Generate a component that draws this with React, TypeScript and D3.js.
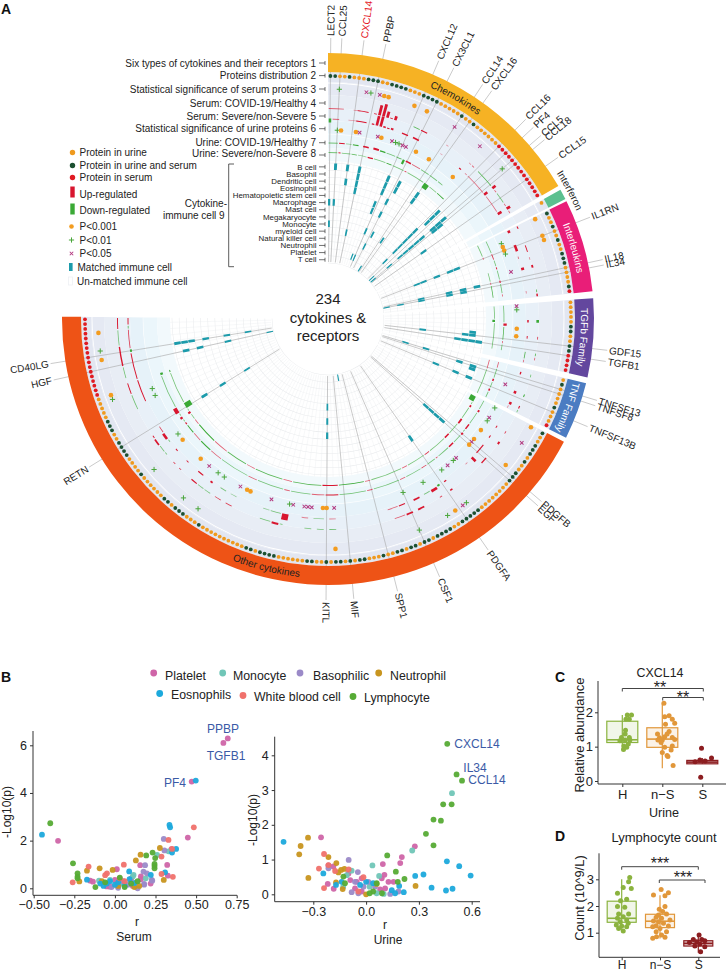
import React from 'react';
import * as d3 from 'd3';

const FONT = '"Liberation Sans", Arial, sans-serif';
const TEXT = '#222';

// ---- panel A data ----
const sectorNames = ['Chemokines', 'Interferon', 'Interleukins', 'TGFb Family', 'TNF Family', 'Other cytokines'];
const sectorSpans = [[0, 60], [60.9, 63.2], [63.7, 84], [85.5, 102.7], [104, 116.5], [117.5, 270.5]];
const sectorColors = ['#f6b224', '#5cc08f', '#e91e78', '#63479e', '#4b7cc2', '#ee5316'];
const sectorTextColors = ['#222', '#222', '#fff', '#fff', '#fff', '#222'];

// one letter per gene: u urine, d urine and serum, s serum, - no dot
const chemokineDots = 'dduuduuudddUUddddUUUddddUUUUUdUUdUUUUUU'.toLowerCase() + 'ssssssssssssss';
const interferonDots = 'u-';
const interleukinDots = 'duuduuduuddduuuuds';
const tgfDots = 'uuuuudduuddssss';
const tnfDots = 'uduuuuduuus';
const otherDots = 'duuddduduuddduuuuuuuuddddduuddddudduddudduuduuuddududuuddu'.slice(0, 53).padEnd(53, 'u')
  + 'du' + 'duudduuuuuuddddudduuuuuuuuuuduuudddudduuuuuuduuuudddduuddduuuuuuddu'.slice(0, 63).padEnd(63, 'u')
  + 'sssssssssssssssss';
const sectorDots = [chemokineDots, interferonDots, interleukinDots, tgfDots, tnfDots, otherDots];

const trackLabels = [
  'Six types of cytokines and their receptors 1', 'Proteins distribution 2', 'Statistical significance of serum proteins 3',
  'Serum: COVID-19/Healthy 4', 'Serum: Severe/non-Severe 5', 'Statistical significance of urine proteins 6',
  'Urine: COVID-19/Healthy 7', 'Urine: Severe/non-Severe 8',
];
const trackLabelY = [63, 75.6, 89, 103, 116, 128.7, 142.7, 153.5];
const immuneCells = ['B cell', 'Basophil', 'Dendritic cell', 'Eosinophil', 'Hematopoietic stem cell', 'Macrophage', 'Mast cell',
  'Megakaryocyte', 'Monocyte', 'myeloid cell', 'Natural killer cell', 'Neutrophil', 'Platelet', 'T cell'];

const geneLabels: [number, string][] = [
  [0, 'LECT2'], [2, 'CCL25'], [6, 'CXCL14'], [10, 'PPBP'], [20, 'CXCL12'], [23, 'CX3CL1'], [29, 'CCL14'], [31, 'CXCL16'],
  [39, 'CCL16'], [41, 'PF4'], [43, 'CCL5'], [44, 'CCL18'], [48, 'CCL15'], [59, 'IL1RN'], [67, 'IL18'], [68, 'IL34'],
  [82, 'GDF15'], [84, 'TGFB1'], [90, 'TNFSF13'], [91, 'TNFSF8'], [95, 'TNFSF13B'], [110, 'PDGFB'], [111, 'EGF'],
  [123, 'PDGFA'], [133, 'CSF1'], [141, 'SPP1'], [149, 'MIF'], [154, 'KITL'], [205, 'RETN'], [222, 'HGF'], [225, 'CD40LG'],
];

// [gene, kind]: o P<0.001, + P<0.01, x P<0.05
const serumSignificance: [number, string][] = [
  [2, '+'], [8, 'x'], [9, '+'], [11, 'x'], [12, 'o'], [13, 'o'], [19, 'o'], [22, 'o'], [29, 'x'], [36, 'x'], [43, '+'],
  [55, 'o'], [59, 'o'], [60, 'o'], [99, 'o'], [103, 'x'], [109, 'o'], [121, '+'], [122, 'x'], [124, 'o'], [126, '+'], [133, '+'],
  [152, 'o'], [184, '+'], [188, '+'], [197, '+'], [215, '+'], [216, 'o'], [224, 'o'], [226, '+'], [230, 'o'],
];
const urineSignificance: [number, string][] = [
  [2, '+'], [3, 'o'], [7, 'o'], [8, 'x'], [13, 'x'], [14, 'o'], [17, 'x'], [18, '+'], [19, '+'], [20, 'x'], [21, 'x'], [24, 'o'], [28, 'o'], [36, 'o'],
  [57, '+'], [58, 'o'], [59, 'o'], [60, '+'], [65, 'x'], [73, 'x'], [74, '+'], [79, 'o'], [81, 'o'], [93, 'x'], [99, '+'], [102, 'x'], [103, '+'],
  [106, 'o'], [109, 'o'], [110, 'x'], [111, 'o'], [116, 'x'], [117, '+'], [119, 'x'], [121, '+'], [127, '+'], [133, '+'],
  [152, 'x'], [154, 'o'], [155, 'o'], [158, 'x'], [159, 'x'], [160, 'x'], [163, 'x'], [164, '+'], [169, 'x'], [175, 'o'], [176, 'o'], [178, 'x'],
  [183, '+'], [185, '+'], [188, 'x'], [191, 'o'], [198, 'o'], [200, '+'], [212, '+'], [214, '+'],
];

// [first gene, last gene, log fold change]
const serumCovid: [number, number, number][] = [
  [0, 3, .3], [6, 7, .15], [7, 9, .5], [11, 11, .5], [12, 12, 3.4], [13, 13, 4], [14, 14, 2.2], [15, 15, .5], [16, 16, 1.6], [21, 22, -.4], [23, 24, .6],
  [30, 30, .12], [37, 37, .15], [38, 38, .3], [40, 44, -.4], [45, 45, 1.6], [46, 46, .3], [47, 49, -.3], [50, 50, .3], [51, 51, 1.6], [52, 52, .3],
  [55, 55, .6], [60, 61, .5], [63, 63, .2], [65, 65, 1], [71, 71, -.4], [72, 72, .8], [77, 77, -1.2], [81, 81, .4], [85, 85, -.4], [86, 86, .3],
  [89, 89, -.3], [94, 94, -.5], [97, 97, .6], [98, 98, -.3], [103, 103, .4], [106, 106, 1], [111, 112, .7], [122, 122, .8], [125, 125, .4], [130, 131, .9],
  [133, 134, .9], [135, 137, .3], [152, 153, -.3], [155, 156, -.3], [158, 159, -.3], [165, 165, -.3], [166, 167, 1], [168, 170, -.3], [178, 179, .4], [181, 182, .4],
  [184, 185, -.3], [186, 187, -.3], [188, 189, .6], [193, 193, .4], [195, 195, .4], [198, 198, -.3], [199, 200, -.3], [201, 202, .9], [203, 203, .5],
  [211, 214, -.3], [215, 217, .5], [219, 221, -.3], [222, 226, .7], [227, 230, -.3], [231, 233, .5],
];
const serumSevere: [number, number, number][] = [
  [0, 0, -1.6], [1, 2, .4], [5, 7, .12], [7, 9, .5], [11, 11, .6], [12, 12, 3.2], [13, 13, 3.4], [14, 14, .8], [15, 15, .5], [16, 16, 1], [19, 20, .7], [22, 23, .9],
  [30, 30, .12], [36, 36, .6], [38, 38, .2], [39, 44, .25], [45, 45, 1.6], [46, 50, .3], [51, 51, 1.7],
  [55, 55, 1.2], [59, 60, 1.2], [62, 62, .3], [65, 65, 1.3], [71, 71, .2], [77, 77, .8], [81, 81, .5], [85, 86, -.4], [87, 87, .3],
  [89, 89, .7], [94, 94, 1.2], [97, 97, 1.2], [98, 98, .2], [103, 103, .5], [106, 106, .6], [109, 111, .6], [113, 113, 2], [115, 115, .2], [122, 122, .7],
  [124, 124, -1], [125, 126, 1.3], [127, 128, -.3], [130, 131, .9], [134, 135, .6], [136, 138, .3], [152, 153, .2], [155, 157, -.2], [159, 160, .2],
  [164, 165, 2.2], [166, 168, -.3], [169, 170, -.2], [178, 179, -.2], [181, 182, -.3], [185, 185, .9], [188, 189, .6], [193, 193, .5], [197, 197, .5],
  [200, 200, -.3], [201, 202, 1.2], [203, 204, .4], [212, 217, .5], [218, 224, .5], [225, 225, -1], [226, 230, .4], [231, 231, -.4], [232, 233, .5],
];
const urineCovid: [number, number, number][] = [
  [0, 2, -.3], [3, 4, .5], [5, 6, -.2], [7, 8, -.6], [10, 11, .8], [13, 14, 1], [15, 16, -.6], [17, 19, -.3], [20, 21, -.4], [22, 22, -1.8], [23, 24, .8], [25, 27, .3], [28, 30, -.3], [31, 33, -.3], [34, 35, -.3],
  [55, 58, -.3], [59, 60, .4], [61, 62, -.3], [63, 63, .5], [64, 66, -.3], [67, 67, .6], [68, 70, -.3], [71, 71, .3],
  [73, 77, -.3], [78, 78, 1.4], [79, 82, -.4], [83, 83, .3], [84, 85, -.3], [88, 89, .3], [90, 92, -.3], [93, 93, .8], [94, 95, -.3], [96, 96, .8], [97, 98, -.3],
  [99, 101, -.3], [102, 102, 1], [103, 106, -.3], [107, 108, .8], [109, 109, -.3], [110, 110, 1], [111, 113, -.3], [114, 115, .8], [116, 119, -.3], [120, 120, .4], [121, 123, -.3], [124, 125, .4],
  [126, 130, -.3], [131, 132, .3], [133, 140, -.3], [141, 142, .3], [143, 150, -.3], [151, 154, .5], [155, 158, .3], [159, 164, -.3], [165, 166, .3], [167, 174, -.3], [175, 177, .3], [178, 186, -.3],
  [187, 190, .3], [191, 194, -.6], [195, 197, .3], [198, 200, -.5], [201, 201, .6], [202, 202, -.3], [203, 203, 1.2], [204, 204, -.3], [205, 206, 1.6], [207, 216, -.3], [217, 217, -1.2],
];
const urineSevere: [number, number, number][] = [
  [0, 2, -.3], [3, 3, .5], [4, 6, -.3], [7, 8, -.4], [9, 11, -.2], [12, 13, .7], [14, 17, -.3], [18, 19, -.5], [20, 23, -.3], [24, 24, .4], [25, 30, -.3], [31, 32, -2], [33, 35, -.3], [36, 38, -.5],
  [55, 58, -.3], [59, 59, .3], [64, 66, -.3], [67, 67, .3], [68, 71, -.4], [73, 76, -.3], [77, 77, -1.2], [78, 85, -.3], [88, 90, .3], [91, 98, -.3],
  [99, 100, -2], [101, 101, -.3], [102, 102, .9], [103, 106, -.3], [107, 108, .9], [109, 112, -.3], [113, 114, .8], [115, 120, -.3], [121, 122, .4], [123, 128, -.3], [129, 130, .3],
  [131, 140, -.3], [141, 142, .3], [143, 150, -.5], [151, 155, .6], [156, 164, -.4], [165, 167, .3], [168, 176, -.4], [177, 179, .3], [180, 186, -.4], [187, 191, .3], [192, 198, -.5],
  [199, 200, .3], [201, 202, -.3], [203, 203, 1.2], [204, 204, -.3], [205, 206, -2.4], [207, 216, -.3], [217, 217, -.5],
];

// [gene, immune cell index]
const matchedCells: [number, number][] = [
  [0, 5], [0, 8], [2, 0], [2, 5], [6, 0], [6, 2], [10, 0], [10, 1], [10, 2], [10, 3], [10, 9], [18, 12],
  [20, 0], [20, 1], [20, 2], [20, 8], [20, 12], [19, 4], [19, 5], [24, 0], [24, 1], [24, 8], [23, 3], [23, 5], [23, 10], [28, 13], [30, 8],
  [31, 0], [31, 1], [39, 4], [39, 5], [39, 6], [39, 7], [39, 8], [39, 10], [40, 0], [40, 1], [40, 2], [43, 0], [43, 1], [43, 2], [44, 1], [44, 2],
  [43, 4], [43, 5], [43, 6], [43, 7], [43, 8], [43, 10], [43, 13], [41, 13], [48, 5],
  [59, 2], [59, 3], [59, 5], [59, 7], [59, 8], [67, 0], [67, 2], [68, 2], [67, 4], [67, 8], [68, 4], [68, 8], [68, 11], [68, 13],
  [82, 1], [82, 2], [82, 8], [81, 1], [84, 0], [84, 1], [84, 2], [84, 3], [90, 7], [90, 10], [91, 0], [92, 0], [91, 2], [95, 0], [95, 2], [95, 5],
  [111, 0], [111, 1], [111, 2], [111, 3], [123, 1], [145, 13], [154, 7], [154, 9], [154, 5],
  [205, 1], [205, 4], [205, 8], [222, 1], [222, 3], [222, 7], [222, 13], [225, 0], [225, 1], [225, 2], [225, 4], [225, 7], [225, 10],
];

// ---- panel B data ----
const bloodCells = ['Platelet', 'Monocyte', 'Basophilic', 'Neutrophil', 'Eosnophils', 'White blood cell', 'Lymphocyte'];
const bloodCellColors = ['#cf65a8', '#70c6b7', '#9b8ac8', '#c8951f', '#1ca9dc', '#f0716c', '#56ab35'];
type Pt = [number, number];
const serumPoints: Pt[][] = [
  [[.695, 6.29], [.668, 6.1], [.473, 4.48], [-.35, 1.99], [.449, 2.13], [.348, 1.64], [.156, .97], [.322, .98], [.012, .8], [-.152, .32], [-.135, .28], [.326, .53], [-.05, .08], [-.03, .07], [0, .35], [.03, .3], [.05, .2], [.1, .4], [.11, .1], [.16, .5], [.16, .38], [.22, .2]],
  [[.26, 1.4], [.33, 1.55], [.115, .56], [.19, .42], [-.098, .32], [-.03, .35], [.01, .12], [.04, .2], [.13, .25], [.11, .5]],
  [[.301, 2.07], [.305, 1.59], [.186, .97], [.176, .7], [.197, .63], [.227, .35], [.18, .18], [-.02, .05], [.02, .02], [.08, .15], [.14, 0], [.18, .15], [.23, .32], [.05, .3]],
  [[.277, 1.69], [.158, 1.41], [.129, 1.17], [-.172, .74], [-.094, .84], [-.014, .77], [-.219, .29], [.301, .35], [-.08, .3], [.02, .1], [.12, .05], [.15, .1]],
  [[.498, 4.52], [-.449, 2.25], [.336, 2.66], [.34, 2.56], [.377, 1.65], [.352, 1.5], [.088, .71], [-.172, .36], [.309, .67], [.221, .56], [-.09, .2], [-.07, .1], [-.05, .2], [-.03, .3], [0, .15], [.02, .25], [.06, .1], [.09, .38], [.12, .22]],
  [[.486, 2.56], [.33, 2.03], [.352, 1.65], [.287, 1.33], [.055, .99], [-.162, .91], [-.049, .63], [-.26, .25], [.287, .6], [.357, .48], [-.06, .55], [.03, .42], [.06, .3]],
  [[-.398, 2.73], [.232, 1.5], [.248, 1.27], [.244, 1.02], [.244, .94], [.244, .84], [.193, 1.38], [-.258, 1.05], [-.23, .63], [-.23, .49], [-.23, .42], [-.12, .05], [-.06, .25], [.03, .45], [.06, .05], [.1, .2], [.14, .3]],
];
const urinePoints: Pt[][] = [
  [[.277, 1.38], [.203, 1.07], [.194, .9], [.095, .87], [.104, .56], [.089, .46], [-.256, 1.64], [-.214, .83], [-.186, .8], [-.218, .3], [-.184, .16], [-.09, .41], [-.053, .36], [-.025, .46], [-.063, .17], [-.025, .08], [.08, .14], [.127, .36], [.156, .36], [.108, .17], [-.1, .6]],
  [[.488, 2.91], [.262, 1.26], [.036, .83], [.074, .53], [-.082, .68], [-.11, .55], [.02, .22], [.06, .03], [.1, .01], [-.13, .22]],
  [[-.099, .99], [-.214, .75], [-.047, .64], [.013, .36], [-.063, .36], [-.082, .06], [-.015, .22], [.051, .22], [.137, .01], [.184, .08], [-.044, .03]],
  [[-.372, 1.39], [-.33, 1.63], [-.38, 1.15], [-.214, 1.07], [-.169, .9], [-.157, .63], [-.142, .7], [-.123, .73], [-.328, .47], [.281, .24], [-.171, .34], [-.133, .15], [0, 0], [.06, .3]],
  [[-.469, 1.51], [-.243, .6], [.279, .53], [.326, .57], [.459, .95], [.529, .81], [.594, .54], [.372, .19], [.454, .11], [.491, .16], [.214, .06], [.188, .24], [-.171, .27], [-.139, .36], [.146, .12], [.165, .03], [.04, .32], [-.034, .27], [0, .36]],
  [[-.239, 1.16], [-.268, .74], [-.214, .84], [-.176, .67], [-.099, .72], [-.015, .49], [-.239, .18], [-.044, .08]],
  [[.461, 4.33], [.514, 3.45], [.545, 3.27], [.438, 2.59], [.486, 2.59], [.383, 2.15], [.425, 2.12], [.34, 1.74], [.383, 1.41], [.12, 1.12], [.169, .65], [.218, .44], [.18, .36], [-.129, .51], [-.12, .32], [.04, .08], [.02, .03], [.09, .03], [.06, .32]],
];

// ---- panels C, D data ----
const groups = ['H', 'n\u2212S', 'S'];
const groupColors = ['#8bb33f', '#e1973a', '#8c1d20'];
// whisker low, q1, median, q3, whisker high
const cxcl14Boxes = [[.92, 1.12, 1.2, 1.74, 1.92], [.37, .98, 1.22, 1.55, 2.25], [.5, .5, .55, .6, .67]];
const lymphocyteBoxes = [[1.05, 1.39, 1.54, 2.18, 3], [.78, 1.19, 1.43, 1.69, 2.4], [.25, .5, .6, .7, .9]];
// [jitter in group steps, value]
const cxcl14Points: Pt[][] = [
  [[.125, 1.92], [.23, 1.92], [.175, 1.8], [.09, 1.8], [.08, 1.48], [.07, 1.37], [.175, 1.27], [-.02, 1.27], [.07, 1.19], [.19, 1.19], [-.06, 1.17], [.15, 1.08], [.04, 1.02], [.11, .98], [.03, .92]],
  [[.04, 2.26], [.06, 1.87], [.17, 1.9], [.25, 1.8], [.08, 1.65], [.31, 1.68], [.17, 1.44], [.12, 1.37], [.06, 1.29], [-.07, 1.26], [-.12, 1.37], [-.11, 1.19], [0, 1.19], [.25, 1.27], [-.03, 1.12], [.31, 1.21], [.25, 1.02], [.06, .98], [.22, .9], [0, .83], [.14, .71], [.27, .45], [.12, .74]],
  [[-.02, .95], [-.06, .61], [.23, .67], [.07, .58], [-.18, .56], [-.04, .11]],
];
const lymphocytePoints: Pt[][] = [
  [[.21, 3.07], [.18, 2.91], [.04, 2.69], [.25, 2.66], [-.11, 2.48], [.13, 2.25], [-.03, 2.2], [-.11, 1.98], [.08, 1.95], [-.08, 1.7], [.18, 1.7], [.04, 1.6], [-.11, 1.54], [.13, 1.48], [-.04, 1.41], [-.14, 1.29], [0, 1.25], [.17, 1.35], [-.08, 1.16], [.04, 1.06], [.13, 1.22]],
  [[.03, 2.62], [.22, 2.5], [-.17, 2.41], [.13, 2.38], [.13, 1.98], [.07, 1.79], [.17, 1.7], [-.04, 1.66], [-.1, 1.58], [.04, 1.54], [-.17, 1.44], [-.04, 1.41], [.09, 1.35], [-.1, 1.26], [.22, 1.25], [0, 1.16], [-.1, 1.04], [.17, 1.04], [.04, .91], [-.09, .85], [.13, .83], [-.19, 1.22], [-.19, .79], [.26, 1.48], [-.02, 1.88]],
  [[.02, .91], [-.13, .75], [.09, .75], [.17, .7], [-.04, .66], [-.23, .63], [.04, .58], [-.09, .5], [.17, .47], [.06, .29]],
];

const rad = (deg: number) => (deg * Math.PI) / 180;

export default function App() {
  const ref = React.useRef<SVGSVGElement>(null);

  React.useEffect(() => {
    if (!ref.current) return;
    const svg = d3.select(ref.current);
    svg.selectAll('*').remove();
    svg.style('font-family', FONT);

    const label = (sel: any, x: number, y: number, t: string, size = 10, anchor = 'start', fill = TEXT, rot = 0) =>
      sel.append('text').attr('transform', `translate(${x},${y}) rotate(${rot})`).attr('dy', '0.35em')
        .attr('font-size', size).attr('text-anchor', anchor).attr('fill', fill).text(t);

    // ---- panel A ----
    label(svg, 1, 9, 'A', 14).attr('font-weight', 700).attr('fill', '#111');
    label(svg, 1, 677, 'B', 14).attr('font-weight', 700).attr('fill', '#111');
    label(svg, 555, 677, 'C', 14).attr('font-weight', 700).attr('fill', '#111');
    label(svg, 555, 836, 'D', 14).attr('font-weight', 700).attr('fill', '#111');

    const cx = 328, cy = 319;
    const g = svg.append('g').attr('transform', `translate(${cx},${cy})`);
    const counts = sectorDots.map(d => d.length);
    const firstGene = d3.cumsum([0, ...counts]);
    const bands = sectorSpans.map(([a, b], i) =>
      d3.scaleBand<number>().domain(d3.range(firstGene[i], firstGene[i + 1])).range([a, b]));
    const bandOf = (gene: number) => bands[d3.bisectRight(firstGene, gene) - 1];
    const geneStart = (gene: number) => bandOf(gene)(gene)!;
    const geneEnd = (gene: number) => geneStart(gene) + bandOf(gene).bandwidth();
    const geneMid = (gene: number) => geneStart(gene) + bandOf(gene).bandwidth() / 2;
    const arc = d3.arc<any>();
    const wedge = (a0: number, a1: number, r0: number, r1: number) =>
      arc({ startAngle: rad(a0), endAngle: rad(a1), innerRadius: r0, outerRadius: r1 }) as string;

    const trackR = { sector0: 247, sector1: 266, dots: 243, serumSig: 230, serumCovid: 210.5, serumSevere: 200, urineSig: 189, urineCovid: 176, urineSevere: 166.5 };
    const holeR = 57;
    const cellR = d3.scaleLinear().domain([0, 14]).range([156, 56]);

    // background rings
    const ringEdges = [247, 237, 224, 211, 198, 185, 171, 158];
    const ringColors = ['#e2e6f1', '#e5e9f3', '#e8edf5', '#e8f0f8', '#e6f2f9', '#ebf6fb', '#f2f9fc'];
    sectorSpans.forEach(([a0, a1]) => {
      ringColors.forEach((c, i) => {
        g.append('path').attr('d', wedge(a0, a1, ringEdges[i + 1], ringEdges[i])).attr('fill', c);
      });
      g.append('path').attr('d', wedge(a0, a1, 235.6, 236.4)).attr('fill', '#fff');
      g.append('path').attr('d', wedge(a0, a1, 184.6, 185.4)).attr('fill', '#fff').attr('opacity', 0.6);
      d3.range(15).forEach(c => {
        g.append('path').attr('d', wedge(a0, a1, cellR(c) - 0.25, cellR(c) + 0.25)).attr('fill', '#e8eaec');
      });
    });
    // radial grid, one spoke per gene
    g.append('g').selectAll('line').data(d3.range(234).filter(i => (i % 2) === 0)).join('line')
      .attr('x1', d => d3.pointRadial(rad(geneMid(d)), holeR)[0]).attr('y1', d => d3.pointRadial(rad(geneMid(d)), holeR)[1])
      .attr('x2', d => d3.pointRadial(rad(geneMid(d)), 158)[0]).attr('y2', d => d3.pointRadial(rad(geneMid(d)), 158)[1])
      .attr('stroke', '#eceef0').attr('stroke-width', 0.4);

    // gene spokes
    g.append('g').selectAll('line').data(geneLabels).join('line')
      .attr('x1', d => d3.pointRadial(rad(geneMid(d[0])), holeR)[0]).attr('y1', d => d3.pointRadial(rad(geneMid(d[0])), holeR)[1])
      .attr('x2', d => d3.pointRadial(rad(geneMid(d[0])), 281)[0]).attr('y2', d => d3.pointRadial(rad(geneMid(d[0])), 281)[1])
      .attr('stroke', '#a6a6a6').attr('stroke-width', 0.6);

    // sector ring
    const defs = svg.append('defs');
    sectorSpans.forEach(([a0, a1], i) => {
      g.append('path').attr('d', wedge(a0, a1, trackR.sector0, trackR.sector1)).attr('fill', sectorColors[i]);
      if (i === 1) return;
      const bottom = i === 5;
      const r = bottom ? 259.5 : 253;
      const p0 = d3.pointRadial(rad(a0), r), p1 = d3.pointRadial(rad(a1), r);
      const d = bottom
        ? `M${p1[0]},${p1[1]}A${r},${r} 0 0 0 ${p0[0]},${p0[1]}`
        : `M${p0[0]},${p0[1]}A${r},${r} 0 0 1 ${p1[0]},${p1[1]}`;
      defs.append('path').attr('id', `sector-${i}`).attr('d', d);
      const text = g.append('text').attr('font-size', 10).attr('fill', sectorTextColors[i]);
      text.append('textPath').attr('href', `#sector-${i}`)
        .attr('startOffset', '50%').attr('text-anchor', 'middle').text(sectorNames[i]);
    });
    const ifnR = 271;
    const ifn0 = d3.pointRadial(rad(52), ifnR), ifn1 = d3.pointRadial(rad(72), ifnR);
    defs.append('path').attr('id', 'ifn-path').attr('d', `M${ifn0[0]},${ifn0[1]}A${ifnR},${ifnR} 0 0 1 ${ifn1[0]},${ifn1[1]}`);
    g.append('text').attr('font-size', 10).attr('fill', TEXT).append('textPath').attr('href', '#ifn-path')
      .attr('startOffset', '50%').attr('text-anchor', 'middle').text(sectorNames[1]);

    // protein distribution dots
    const dotColor: Record<string, string> = { u: '#ef9a1e', d: '#1c5030', s: '#e01a22' };
    const allDots = sectorDots.join('').split('').map((k, gene) => ({ k, gene })).filter(d => d.k !== '-');
    g.append('g').selectAll('circle').data(allDots).join('circle')
      .attr('cx', d => d3.pointRadial(rad(geneMid(d.gene)), trackR.dots)[0])
      .attr('cy', d => d3.pointRadial(rad(geneMid(d.gene)), trackR.dots)[1])
      .attr('r', 1.9).attr('fill', d => dotColor[d.k]);

    // fold change tracks
    const thick = d3.scaleLinear().domain([0, 1, 4]).range([0, 1.9, 12.5]);
    const fade = d3.scaleLinear().domain([.1, .5]).range([.35, 1]).clamp(true);
    const drawTrack = (rows: [number, number, number][], r: number) => {
      g.append('g').selectAll('path').data(rows).join('path')
        .attr('d', ([a, b, v]) => {
          const t = Math.max(0.8, thick(Math.abs(v)));
          const small = t < 1.6;
          const r0 = small ? r - t / 2 : v > 0 ? r - 0.5 : r + 0.5 - t;
          return wedge(geneStart(a) + 0.2, geneEnd(b) - 0.2, r0, r0 + t);
        })
        .attr('fill', d => d[2] > 0 ? '#d8162f' : '#3aa935')
        .attr('fill-opacity', d => fade(Math.abs(d[2])));
    };
    drawTrack(serumCovid, trackR.serumCovid);
    drawTrack(serumSevere, trackR.serumSevere);
    drawTrack(urineCovid, trackR.urineCovid);
    drawTrack(urineSevere, trackR.urineSevere);

    // significance symbols
    const drawSymbol = (parent: any, x: number, y: number, kind: string) => {
      if (kind === 'o') parent.append('circle').attr('cx', x).attr('cy', y).attr('r', 2.3).attr('fill', '#f39c1f');
      else {
        const s = kind === '+' ? 2.6 : 1.9;
        const color = kind === '+' ? '#4aa63b' : '#b33a80';
        const t = `translate(${x},${y})${kind === 'x' ? ' rotate(45)' : ''}`;
        const e = kind === 'x' ? s * 1.3 : s;
        parent.append('path').attr('transform', t).attr('d', `M${-e},0H${e}M0,${-e}V${e}`)
          .attr('stroke', color).attr('stroke-width', 1).attr('fill', 'none');
      }
    };
    ([[serumSignificance, trackR.serumSig], [urineSignificance, trackR.urineSig]] as [[number, string][], number][]).forEach(([rows, r]) => {
      rows.forEach(([gene, kind]) => {
        const [x, y] = d3.pointRadial(rad(geneMid(gene)), r);
        drawSymbol(g, x, y, kind);
      });
    });

    // immune cell matches
    g.append('g').selectAll('path').data(matchedCells).join('path')
      .attr('d', ([gene, c]) => wedge(geneStart(gene) + 0.02, geneEnd(gene) - 0.02, cellR(c + 1) + 0.3, cellR(c) - 0.3))
      .attr('fill', '#1c9bab');

    // centre
    label(svg, cx, 299, '234', 15, 'middle');
    label(svg, cx, 318, 'cytokines &', 15, 'middle');
    label(svg, cx, 336, 'receptors', 15, 'middle');

    // gene labels
    geneLabels.forEach(([gene, name]) => {
      const a = geneMid(gene);
      const [x, y] = d3.pointRadial(rad(a), 283);
      const left = a > 181;
      g.append('text').attr('transform', `translate(${x},${y}) rotate(${left ? a + 90 : a - 90})`).attr('dy', '0.35em')
        .attr('text-anchor', left ? 'end' : 'start').attr('font-size', 10)
        .attr('fill', name === 'CXCL14' ? '#e3121c' : TEXT).text(name);
    });

    // track labels
    const tick = (y: number) => {
      svg.append('path').attr('d', `M319,${y}H325M325,${y - 2}V${y + 2}`).attr('stroke', '#333').attr('stroke-width', 0.7).attr('fill', 'none');
    };
    trackLabels.forEach((t, i) => {
      label(svg, 316, trackLabelY[i], t, 10, 'end');
      tick(trackLabelY[i] + (i === 7 ? 1.5 : 0));
    });
    immuneCells.forEach((t, i) => {
      const y = cy - (cellR(i) + cellR(i + 1)) / 2 + 0.3;
      label(svg, 316.5, y, t, 7.9, 'end');
      tick(y);
    });
    svg.append('path').attr('d', 'M234,164H228.7V266.7H234').attr('stroke', '#333').attr('stroke-width', 0.8).attr('fill', 'none');
    label(svg, 227, 203.7, 'Cytokine-', 10, 'end');
    label(svg, 224.7, 215.5, 'immune cell 9', 10, 'end');

    // legend of panel A
    const legendText = ['Protein in urine', 'Protein in urine and serum', 'Protein in serum', 'Up-regulated', 'Down-regulated', 'P<0.001', 'P<0.01', 'P<0.05'];
    const legendY = [152.5, 165.5, 177.5, 194, 210.5, 226.5, 240, 253.5];
    (['u', 'd', 's'] as const).forEach((k, i) => {
      svg.append('circle').attr('cx', 72.5).attr('cy', legendY[i]).attr('r', 2.7).attr('fill', dotColor[k]);
    });
    svg.append('rect').attr('x', 70.3).attr('y', 186.5).attr('width', 4.4).attr('height', 11).attr('fill', '#d8162f');
    svg.append('rect').attr('x', 70.3).attr('y', 203.5).attr('width', 4.4).attr('height', 11).attr('fill', '#3aa935');
    ['o', '+', 'x'].forEach((k, i) => drawSymbol(svg, 71.5, legendY[5 + i], k));
    legendText.forEach((t, i) => label(svg, 79.5, legendY[i], t, 10));
    svg.append('rect').attr('x', 69).attr('y', 263).attr('width', 3.6).attr('height', 8).attr('fill', '#1c9bab');
    label(svg, 77.5, 267.5, 'Matched immune cell', 10);
    svg.append('rect').attr('x', 68.5).attr('y', 277).attr('width', 4).attr('height', 8).attr('fill', '#fff').attr('stroke', '#eef1f4').attr('stroke-width', 0.8);
    label(svg, 77, 281.5, 'Un-matched immune cell', 10);

    // ---- panel B ----
    const legendDots: [number, number, number][] = [[0, 153.7, 673], [1, 222.7, 673], [2, 300, 673], [3, 378.7, 673], [4, 159.7, 693.5], [5, 243, 695.5], [6, 353, 696.5]];
    const legendTextX = [165, 233, 313, 390, 171, 254, 364];
    const legendTextY = [675.5, 675.5, 675.5, 675.5, 694.5, 696.5, 697.5];
    legendDots.forEach(([i, x, y]) => {
      svg.append('circle').attr('cx', x).attr('cy', y).attr('r', 3.4).attr('fill', bloodCellColors[i]);
      label(svg, legendTextX[i], legendTextY[i], bloodCells[i], 12.3);
    });

    const axisStyle = (sel: any, size = 12.5) => {
      sel.selectAll('path').attr('stroke', '#333').attr('stroke-width', 1);
      sel.selectAll('line').attr('stroke', '#333').attr('stroke-width', 1);
      sel.selectAll('text').attr('font-family', FONT).attr('font-size', size).attr('fill', TEXT);
    };
    const scatter = (points: Pt[][], x: d3.ScaleLinear<number, number>, y: d3.ScaleLinear<number, number>,
      xTicks: number[], yTicks: number[], xFmt: (d: number) => string, axisX: number, axisY: number, topY: number, rightX: number) => {
      const order = points.flatMap((pts, i) => pts.map(p => ({ p, i })));
      svg.append('g').selectAll('circle').data(order).join('circle')
        .attr('cx', d => x(d.p[0])).attr('cy', d => y(d.p[1])).attr('r', 2.9)
        .attr('fill', d => bloodCellColors[d.i]).attr('fill-opacity', 0.95);
      const xa = svg.append('g').attr('transform', `translate(0,${axisY})`)
        .call(d3.axisBottom(x).tickValues(xTicks).tickFormat(d => xFmt(d as number)).tickSize(3).tickSizeOuter(0).tickPadding(2));
      xa.select('.domain').attr('d', `M${axisX},0H${rightX}`);
      axisStyle(xa);
      const ya = svg.append('g').attr('transform', `translate(${axisX},0)`)
        .call(d3.axisLeft(y).tickValues(yTicks).tickFormat(d => String(d)).tickSize(3).tickSizeOuter(0).tickPadding(3));
      ya.select('.domain').attr('d', `M0,${topY}V${axisY}`);
      axisStyle(ya);
    };

    const serumX = d3.scaleLinear().domain([-.5, .75]).range([33.7, 236.7]);
    const serumY = d3.scaleLinear().domain([0, 6]).range([888.3, 745.3]);
    scatter(serumPoints, serumX, serumY, [-.5, -.25, 0, .25, .5, .75], [0, 2, 4, 6], d => d3.format('.2f')(d).replace('-', '\u2212'), 33, 895.3, 731, 237);
    label(svg, 7, 812, '-Log10(p)', 12, 'middle', TEXT, -90);
    label(svg, 137, 922, 'r', 12, 'middle');
    label(svg, 134, 937, 'Serum', 12, 'middle');

    const urineX = d3.scaleLinear().domain([-.3, .6]).range([313.3, 471.7]);
    const urineY = d3.scaleLinear().domain([0, 4]).range([894.3, 755.3]);
    scatter(urinePoints, urineX, urineY, [-.3, 0, .3, .6], [0, 1, 2, 3, 4], d => d3.format('.1f')(d).replace('-', '\u2212'), 274.7, 901.7, 736.7, 480);
    label(svg, 253, 820, '-Log10(p)', 12, 'middle', TEXT, -90);
    label(svg, 385, 925, 'r', 12, 'middle');
    label(svg, 388, 939.5, 'Urine', 12, 'middle');

    const blue = '#3a5aa6';
    label(svg, 223, 729, 'PPBP', 12, 'middle', blue);
    label(svg, 226, 756, 'TGFB1', 12, 'middle', blue);
    label(svg, 175, 783, 'PF4', 12, 'middle', blue);
    label(svg, 477, 744, 'CXCL14', 12, 'middle', blue);
    label(svg, 475, 768, 'IL34', 12, 'middle', blue);
    label(svg, 487, 779.5, 'CCL14', 12, 'middle', blue);

    // ---- panels C, D ----
    const boxPanel = (boxes: number[][], points: Pt[][], y: d3.ScaleLinear<number, number>, x: d3.ScalePoint<string>,
      yTicks: number[], axisX: number, axisY: number, topY: number, rightX: number, halfW: number, xLabelPad: number, xLabelSize: number) => {
      const step = x.step();
      boxes.forEach((b, i) => {
        const cxx = x(groups[i])!;
        const c = groupColors[i];
        svg.append('line').attr('x1', cxx).attr('x2', cxx).attr('y1', y(b[0])).attr('y2', y(b[4])).attr('stroke', c).attr('stroke-width', 1.2);
        svg.append('rect').attr('x', cxx - halfW).attr('width', halfW * 2).attr('y', y(b[3])).attr('height', y(b[1]) - y(b[3]))
          .attr('fill', c).attr('fill-opacity', i === 2 ? 0.25 : 0.12).attr('stroke', c).attr('stroke-width', 1.2);
        svg.append('line').attr('x1', cxx - halfW).attr('x2', cxx + halfW).attr('y1', y(b[2])).attr('y2', y(b[2])).attr('stroke', c).attr('stroke-width', 1.6);
        svg.append('g').selectAll('circle').data(points[i]).join('circle')
          .attr('cx', d => cxx + d[0] * step).attr('cy', d => y(d[1])).attr('r', 2.5).attr('fill', c);
      });
      const ya = svg.append('g').attr('transform', `translate(${axisX},0)`)
        .call(d3.axisLeft(y).tickValues(yTicks).tickFormat(d => String(d)).tickSize(3).tickSizeOuter(0).tickPadding(2));
      ya.select('.domain').attr('d', `M0,${topY}V${axisY}`);
      axisStyle(ya, 13);
      const xa = svg.append('g').attr('transform', `translate(0,${axisY})`)
        .call(d3.axisBottom(x).tickSize(3).tickSizeOuter(0).tickPadding(xLabelPad));
      xa.select('.domain').attr('d', `M${axisX},0H${rightX}`);
      axisStyle(xa, xLabelSize);
    };
    const bracket = (x0: number, x1: number, y: number) => {
      svg.append('path').attr('d', `M${x0},${y + 3}V${y}H${x1}V${y + 3}`).attr('stroke', '#444').attr('stroke-width', 1).attr('fill', 'none');
    };

    const cY = d3.scaleLinear().domain([0, 2]).range([781, 712.3]);
    const cX = d3.scalePoint<string>().domain(groups).range([622.3, 702.3]);
    boxPanel(cxcl14Boxes, cxcl14Points, cY, cX, [0, 1, 2], 598, 784, 681, 726, 15.5, 3, 13);
    label(svg, 660, 673, 'CXCL14', 12.4, 'middle');
    label(svg, 579, 735, 'Relative abundance', 13, 'middle', TEXT, -90);
    label(svg, 664, 812.5, 'Urine', 12.6, 'middle');
    bracket(622.3, 703.3, 688.5);
    bracket(662.7, 703.3, 697.5);
    label(svg, 660, 687, '**', 16, 'middle');
    label(svg, 683, 697, '**', 16, 'middle');

    const dY = d3.scaleLinear().domain([1, 3]).range([932.7, 879.3]);
    const dX = d3.scalePoint<string>().domain(groups).range([621.7, 698.3]);
    boxPanel(lymphocyteBoxes, lymphocytePoints, dY, dX, [1, 2, 3], 599, 957.3, 853.3, 720, 14.5, 0, 12);
    label(svg, 664, 837, 'Lymphocyte count', 13, 'middle');
    label(svg, 579, 898, 'Count (10^9/L)', 13, 'middle', TEXT, -90);
    bracket(621.7, 698.3, 866.7);
    bracket(659.3, 705, 880);
    label(svg, 660, 863, '***', 16, 'middle');
    label(svg, 683, 877.5, '***', 16, 'middle');
  }, []);

  return <svg ref={ref} width={727} height={973} style={{ position: 'absolute', left: 0, top: 0, display: 'block', background: '#fff' }} />;
}
